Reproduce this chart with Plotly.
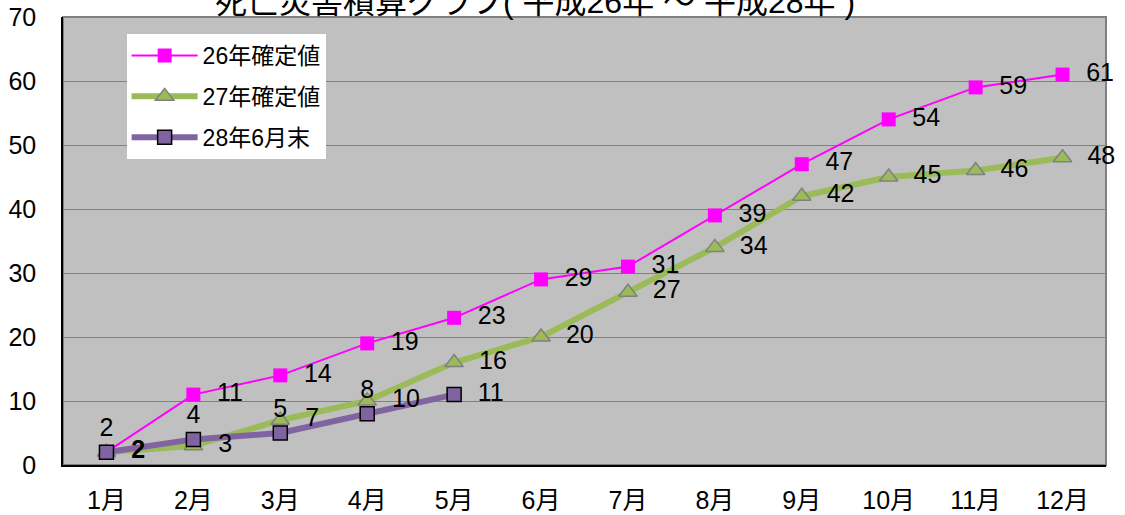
import plotly.graph_objects as go

months = ["1月", "2月", "3月", "4月", "5月", "6月", "7月", "8月", "9月", "10月", "11月", "12月"]
y26 = [2, 11, 14, 19, 23, 29, 31, 39, 47, 54, 59, 61]
y27 = [2, 3, 7, 10, 16, 20, 27, 34, 42, 45, 46, 48]
y28 = [2, 4, 5, 8, 11]
names = ["26年確定値", "27年確定値", "28年6月末"]
title = "死亡災害積算グラフ( 平成26年 ～ 平成28年 )"

FONT = "Liberation Sans, Arial, Noto Sans CJK JP"
TF = dict(size=25, color="#000000")
CLEAR = "rgba(0,0,0,0)"

fig = go.Figure()
fig.add_trace(go.Scatter(
    x=months, y=y26, name=names[0], mode="lines+markers", legendgroup="a",
    line=dict(color="#FF00FF", width=2),
    marker=dict(symbol="square", size=14, color="#FF00FF"),
))
fig.add_trace(go.Scatter(
    x=months, y=y27, name=names[1], mode="lines+markers", legendgroup="b",
    line=dict(color="#9BBB59", width=6),
    marker=dict(symbol="triangle-up", size=16, color="#9BBB59", line=dict(color="#808080", width=1.5)),
))
fig.add_trace(go.Scatter(
    x=months[:len(y28)], y=y28, name=names[2], mode="lines+markers", legendgroup="c",
    line=dict(color="#8064A2", width=6),
    marker=dict(symbol="square", size=14, color="#8064A2", line=dict(color="#000000", width=1.5)),
))

# data labels drawn on top of all lines
fig.add_trace(go.Scatter(
    x=months, y=y26, mode="markers+text", showlegend=False, hoverinfo="skip",
    marker=dict(size=14, color=CLEAR),
    text=["" if i == 0 else f"  {v}" for i, v in enumerate(y26)],
    textposition="middle right", textfont=TF, cliponaxis=False,
))
fig.add_trace(go.Scatter(
    x=months, y=y27, mode="markers+text", showlegend=False, hoverinfo="skip",
    marker=dict(size=16, color=CLEAR),
    text=["  <b>2</b>"] + [f"  {v}" for v in y27[1:]],
    textposition="middle right", textfont=TF, cliponaxis=False,
))
fig.add_trace(go.Scatter(
    x=months[:len(y28)], y=y28, mode="markers+text", showlegend=False, hoverinfo="skip",
    marker=dict(size=14, color=CLEAR),
    text=[str(v) for v in y28[:4]] + [f"  {y28[4]}"],
    textposition=["top center"] * 4 + ["middle right"], textfont=TF, cliponaxis=False,
))

fig.update_layout(
    width=1125, height=515,
    margin=dict(l=63, r=19, t=17, b=50),
    paper_bgcolor="#FFFFFF", plot_bgcolor="#C0C0C0",
    font=dict(family=FONT, size=25, color="#000000"),
    showlegend=True,
    legend=dict(x=0.061, y=0.962, xanchor="left", yanchor="top",
                bgcolor="#FFFFFF", font=dict(size=23), traceorder="grouped",
                tracegroupgap=8, itemwidth=66),
    xaxis=dict(type="category", range=[-0.5, 11.5], showgrid=False, automargin=False,
               showline=True, linecolor="#000000", linewidth=1.5, mirror=False,
               ticks="", tickfont=dict(size=25), ticklabelstandoff=12),
    yaxis=dict(range=[0, 70], dtick=10, showgrid=True, gridcolor="#808080", gridwidth=1,
               automargin=False,
               showline=True, linecolor="#000000", linewidth=1.5, mirror=False,
               ticks="", tickfont=dict(size=25), zeroline=False, ticklabelstandoff=20),
    shapes=[dict(type="rect", xref="paper", yref="paper", x0=0, x1=1, y0=0, y1=1,
                 line=dict(color="#808080", width=2), layer="below")],
    annotations=[dict(text=title, xref="paper", yref="paper", x=0.453, y=1,
                      xanchor="center", yanchor="bottom", yshift=-5, showarrow=False,
                      font=dict(size=32))],
)

fig.write_html("out.html")
